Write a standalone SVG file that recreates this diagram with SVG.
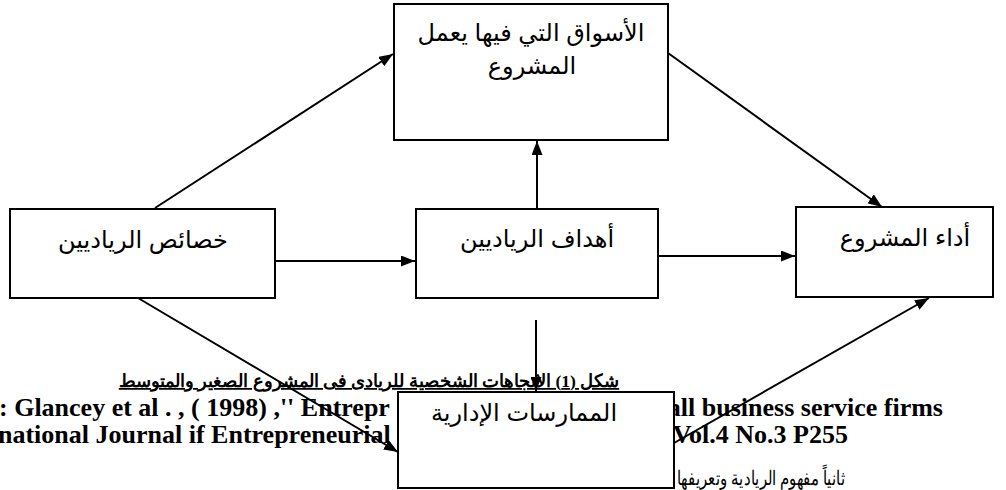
<svg xmlns="http://www.w3.org/2000/svg" width="1006" height="490" viewBox="0 0 1006 490">
<defs>
<marker id="arr" viewBox="0 0 14 11" refX="14" refY="5.5" markerWidth="14" markerHeight="11" markerUnits="userSpaceOnUse" orient="auto"><path d="M0,0 L14,5.5 L0,11 z" fill="#000"/></marker>
</defs>
<style>
.box{fill:#fff;stroke:#000;stroke-width:2}
.lbl{font-family:"Liberation Sans","DejaVu Sans",sans-serif;font-size:24px;fill:#000;text-anchor:middle}
.conn{stroke:#000;stroke-width:2;fill:none;marker-end:url(#arr)}
.cap{font-family:"Liberation Serif","DejaVu Serif",serif;font-weight:bold;font-size:17.5px;fill:#000}
.src{font-family:"Liberation Serif","DejaVu Serif",serif;font-weight:bold;font-size:26px;fill:#000}
.ar{font-family:"Liberation Serif","DejaVu Serif",serif;font-size:20px;fill:#000}
</style>
<rect width="1006" height="490" fill="#fff"/>
<g id="caption">
<text class="cap" x="369" y="387" text-anchor="middle" direction="rtl" text-decoration="underline">شكل (1) الاتجاهات الشخصية للريادى فى المشروع الصغير والمتوسط</text>
<text class="src" x="-1" y="416">: Glancey et al . , ( 1998) ,'' Entrepr</text>
<text class="src" x="943" y="416" text-anchor="end">all business service firms</text>
<text class="src" x="-2" y="443">national Journal if Entrepreneurial</text>
<text class="src" x="848" y="443" text-anchor="end">Vol.4 No.3 P255</text>
<text class="ar" x="677" y="485" textLength="168" lengthAdjust="spacingAndGlyphs" direction="rtl" text-anchor="end">ثانياً مفهوم الريادية وتعريفها</text>
</g>
<g id="connectors">
<line class="conn" x1="155" y1="208" x2="393" y2="54"/>
<line class="conn" x1="275" y1="261" x2="415" y2="261"/>
<line class="conn" x1="537" y1="208" x2="537" y2="141"/>
<line class="conn" x1="658" y1="256" x2="795" y2="256"/>
<line class="conn" x1="668" y1="53" x2="882" y2="207"/>
<line class="conn" x1="138" y1="298" x2="398" y2="452"/>
<line class="conn" x1="536" y1="320" x2="536" y2="391"/>
<line class="conn" x1="674" y1="443" x2="929" y2="298"/>
</g>
<g id="node-markets">
<rect class="box" x="394" y="4" width="274" height="136"/>
<text class="lbl" x="531" y="41">الأسواق التي فيها يعمل</text>
<text class="lbl" x="532" y="74">المشروع</text>
</g>
<g id="node-traits">
<rect class="box" x="10" y="209" width="265" height="89"/>
<text class="lbl" x="143" y="248">خصائص الرياديين</text>
</g>
<g id="node-goals">
<rect class="box" x="416" y="209" width="242" height="89"/>
<text class="lbl" x="537" y="247">أهداف الرياديين</text>
</g>
<g id="node-performance">
<rect class="box" x="796" y="207" width="197" height="90"/>
<text class="lbl" x="905" y="246">أداء المشروع</text>
</g>
<g id="node-practices">
<rect class="box" x="398" y="392" width="276" height="96"/>
<text class="lbl" x="524" y="421">الممارسات الإدارية</text>
</g>
</svg>
